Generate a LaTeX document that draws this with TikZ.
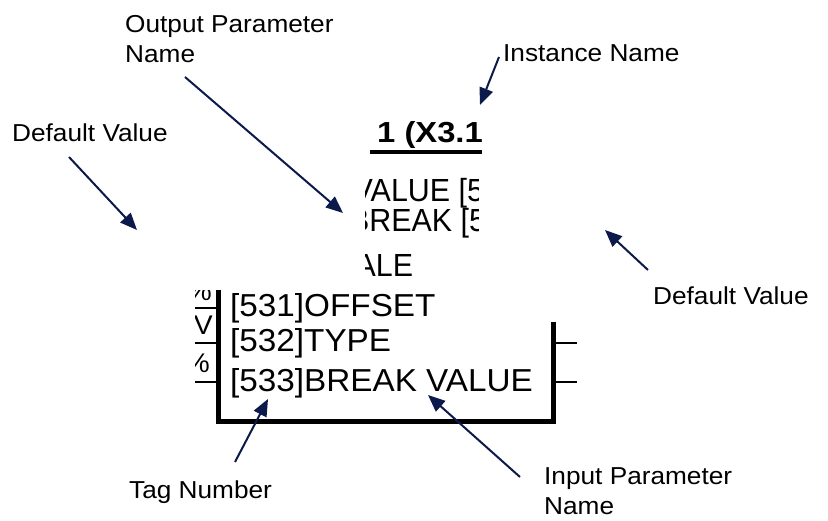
\documentclass[tikz,border=0pt]{standalone}
\usepackage{fontspec}
\setmainfont{Liberation Sans}
\newfontfamily\labfont[FakeStretch=1.07]{Liberation Sans}
\newfontfamily\blkfont[FakeStretch=1.048]{Liberation Sans}
\newfontfamily\upfont[FakeStretch=0.95]{Liberation Sans}
\newfontfamily\ttlfont[FakeStretch=1.13]{Liberation Sans}
\usetikzlibrary{arrows.meta}
\definecolor{navyarrow}{HTML}{0B1A4B}
\tikzset{
  lbl/.style={font=\labfont\fontsize{24.5}{29.5}\selectfont, inner sep=0pt, anchor=base west},
  blk/.style={font=\blkfont\fontsize{31.75}{36}\selectfont, inner sep=0pt, anchor=base west},
  upblk/.style={font=\upfont\fontsize{32}{36}\selectfont, inner sep=0pt, anchor=base west},
  dflt/.style={font=\blkfont\fontsize{27}{30}\selectfont, inner sep=0pt, anchor=base east},
  ttl/.style={font=\ttlfont\bfseries\fontsize{29}{32}\selectfont, inner sep=0pt, anchor=base west},
  arr/.style={draw=navyarrow, line width=2pt, -{Triangle[length=17pt,width=14pt,fill=navyarrow]}},
  frame/.style={line width=5pt},
  stub/.style={line width=2pt}
}
\begin{document}
\begin{tikzpicture}[x=1pt,y=-1pt]
\useasboundingbox[fill=white] (0,0) rectangle (828,521);

% labels
\node[lbl] (opn1) at (125,33) {Output Parameter};
\node[lbl] (opn2) at (125,63) {Name};
\node[lbl] (dvl) at (12,142) {Default Value};
\node[lbl] (inst) at (503,62) {Instance Name};
\node[lbl] (dvr) at (653,305) {Default Value};
\node[lbl] (tag) at (129,498) {Tag Number};
\node[lbl] (ipn1) at (544,485) {Input Parameter};
\node[lbl] (ipn2) at (544,514) {Name};

% block title and top rule
\node[ttl] (title) at (377,143) {1 (X3.1};
\draw[line width=4pt] (370,152.5) -- (482,152.5);

% upper visible fragment of the block
\begin{scope}
  \clip (365,100) rectangle (478,290);
  \node[upblk] (outval) at (352.5,202) {VALUE [5};
  \node[upblk] (outbrk) at (349,232) {BREAK [5};
  \node[upblk] (scale) at (355.5,277) {ALE};
\end{scope}

% lower block
\node[blk] (row1) at (230,317) {[531]OFFSET};
\node[blk] (row2) at (230,352) {[532]TYPE};
\node[blk] (row3) at (230,392) {[533]BREAK VALUE};

\draw[frame] (218,290) -- (218,422) -- (553,422) -- (553,322);
\draw[stub] (195,308) -- (218,308);
\draw[stub] (195,343) -- (218,343);
\draw[stub] (195,382) -- (218,382);
\draw[stub] (553,343) -- (577,343);
\draw[stub] (553,382) -- (577,382);

\begin{scope}
  \clip (195,291) rectangle (216,430);
  \node[dflt] (d1) at (212,301) {\%};
  \node[dflt] (d2) at (213,335) {V};
  \node[dflt] (d3) at (210,373) {\%};
\end{scope}

% arrows
\coordinate (a1t) at (185,77);  \coordinate (a1h) at (343,213);
\coordinate (a2t) at (69,157);  \coordinate (a2h) at (137,230);
\coordinate (a3t) at (499,57);  \coordinate (a3h) at (480,105);
\coordinate (a4t) at (648,270); \coordinate (a4h) at (605,230);
\coordinate (a5t) at (235,462); \coordinate (a5h) at (268,399);
\coordinate (a6t) at (520,477); \coordinate (a6h) at (428,395);
\draw[arr] (a1t) -- (a1h);
\draw[arr] (a2t) -- (a2h);
\draw[arr] (a3t) -- (a3h);
\draw[arr] (a4t) -- (a4h);
\draw[arr] (a5t) -- (a5h);
\draw[arr] (a6t) -- (a6h);
\end{tikzpicture}
\end{document}
